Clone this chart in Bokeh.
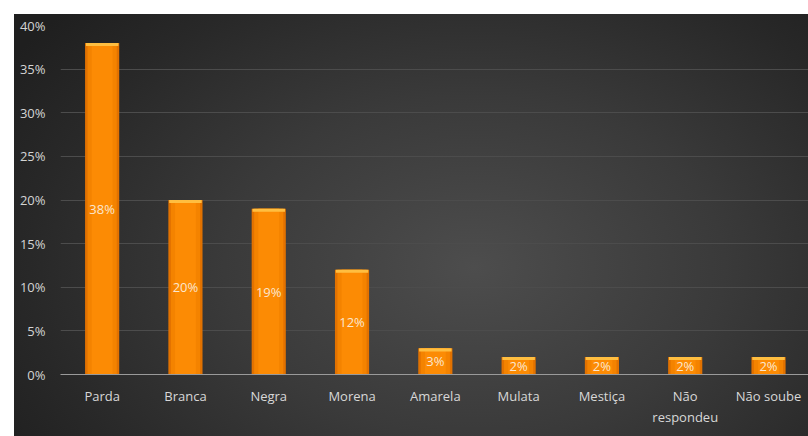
from bokeh.plotting import figure
from bokeh.models import ColumnDataSource, FixedTicker, Range1d, Spacer
from bokeh.layouts import column, row
from bokeh.core.properties import value
from bokeh.embed import file_html
from bokeh.resources import INLINE

categories = ["Parda", "Branca", "Negra", "Morena", "Amarela", "Mulata", "Mestiça", "Não\nrespondeu", "Não soube"]
values = [38, 20, 19, 12, 3, 2, 2, 2, 2]
labels = ["38%", "20%", "19%", "12%", "3%", "2%", "2%", "2%", "2%"]
y_ticks = [0, 5, 10, 15, 20, 25, 30, 35, 40]

xs = list(range(len(categories)))
src = ColumnDataSource(dict(
    x=xs,
    top=values,
    mid=[v / 2 for v in values],
    cap=[v - 0.35 for v in values],
    label=labels,
))

FONT = "Open Sans"

p = figure(width=794, height=422, output_backend="svg", toolbar_location=None,
           x_range=Range1d(-0.5, 8.48), y_range=Range1d(0, 40),
           min_border_left=46, min_border_right=0, min_border_top=11, min_border_bottom=62)
p.styles = {"background": "radial-gradient(ellipse 70% 90% at 58% 60%, #4d4d4d 0%, #3a3a3a 45%, #282828 80%, #1f1f1f 100%)"}
p.border_fill_color = None
p.background_fill_color = None
p.outline_line_color = None

# bars
p.vbar(x="x", top="top", bottom=0, width=0.41, source=src, fill_color="#E27200", line_color=None)
p.vbar(x="x", top="top", bottom=0, width=0.35, source=src, fill_color="#F48300", line_color=None)
p.vbar(x="x", top="top", bottom=0, width=0.25, source=src, fill_color="#FC8B04", line_color=None)
p.vbar(x="x", top="top", bottom="cap", width=0.39, source=src, fill_color="#FFBE40", line_color=None)

p.text(x="x", y="mid", text="label", source=src, text_align="center", text_baseline="middle",
       text_color="#FBE6CF", text_font=value(FONT), text_font_size="13px")

# grid
p.xgrid.grid_line_color = None
p.ygrid.grid_line_color = "#4c4c4c"
p.ygrid.grid_line_width = 1
p.ygrid.ticker = FixedTicker(ticks=y_ticks)

# y axis
p.yaxis.ticker = FixedTicker(ticks=y_ticks)
p.yaxis.major_label_overrides = {t: f"{t}%" for t in y_ticks}
p.yaxis.axis_line_color = None
p.yaxis.major_tick_line_color = None
p.yaxis.minor_tick_line_color = None
p.yaxis.major_tick_out = 0
p.yaxis.major_label_standoff = 15
p.yaxis.major_label_text_color = "#D4D4D4"
p.yaxis.major_label_text_font = FONT
p.yaxis.major_label_text_font_size = "13px"

# x axis
p.xaxis.ticker = FixedTicker(ticks=xs)
p.xaxis.major_label_overrides = {i: c for i, c in zip(xs, categories)}
p.xaxis.axis_line_color = "#9a9a9a"
p.xaxis.axis_line_width = 1
p.xaxis.major_tick_line_color = None
p.xaxis.minor_tick_line_color = None
p.xaxis.major_tick_out = 0
p.xaxis.major_label_standoff = 12
p.xaxis.major_label_text_color = "#D8D8D8"
p.xaxis.major_label_text_font = FONT
p.xaxis.major_label_text_font_size = "13px"

layout = column(Spacer(height=14), row(Spacer(width=14), p))

open("out.html", "w").write(file_html(layout, INLINE))
